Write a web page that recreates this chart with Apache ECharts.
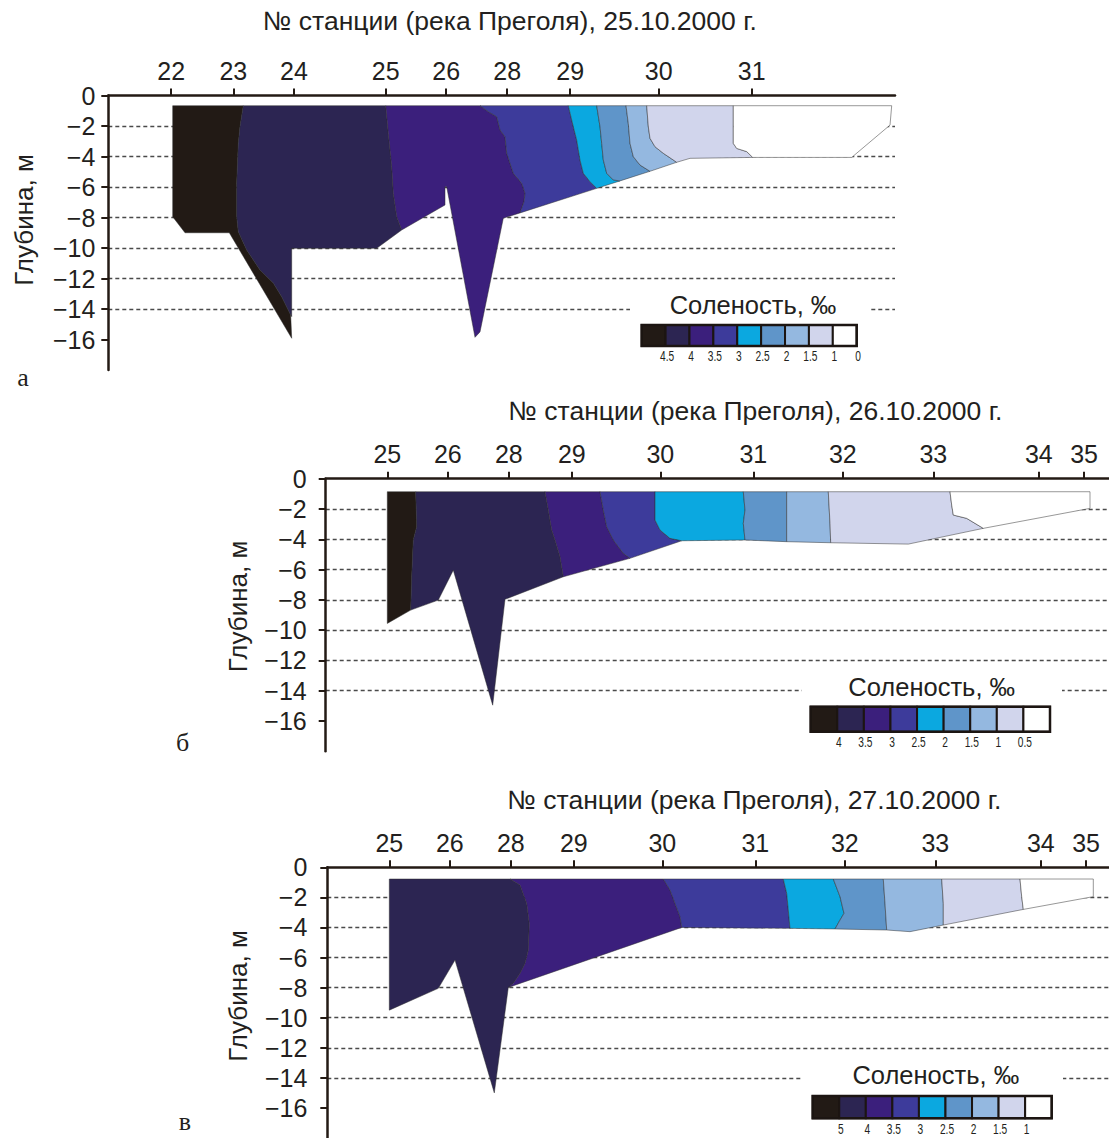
<!DOCTYPE html>
<html><head><meta charset="utf-8">
<script src="https://cdn.jsdelivr.net/npm/echarts@6/dist/echarts.min.js"></script>
<style>html,body{margin:0;padding:0;background:#fff}#main{width:1109px;height:1138px}</style>
</head><body><div id="main"></div>
<script>
// ---- stations along the section (distance units, station 25 = 0) ----
const STATION_NAMES = ['22','23','24','25','26','28','29','30','31','32','33','34','35'];
const STATION_POS   = [-214.5,-152.4,-91.8,0,60.5,121.5,184.5,273,366,455.5,546,651.5,696.8];
const STATIONS_A = ['22','23','24','25','26','28','29','30','31'];
const STATIONS_B = ['25','26','28','29','30','31','32','33','34','35'];
const STATIONS_C = ['25','26','28','29','30','31','32','33','34','35'];
const DEPTH_TICKS = [0,-2,-4,-6,-8,-10,-12,-14,-16];

// ---- salinity classes (legend colours, high -> low) ----
const ZONE_COLORS = ['#221a15','#2c2552','#3b1f7c','#3d3b9b','#0ba8e0','#5f95c9','#94b8e0','#d1d5ec','#ffffff'];
const LEGEND_A = ['4.5','4','3.5','3','2.5','2','1.5','1','0'];
const LEGEND_B = ['4','3.5','3','2.5','2','1.5','1','0.5'];
const LEGEND_C = ['5','4','3.5','3','2.5','2','1.5','1'];

const TITLES = ['№ станции (река Преголя), 25.10.2000 г.',
                '№ станции (река Преголя), 26.10.2000 г.',
                '№ станции (река Преголя), 27.10.2000 г.'];

// ---- salinity zones: [distance, depth] outlines, one per legend class ----
const ZONES_A = [
 [[-213,-0.67],[-142.4,-0.67],[-145.7,-2.04],[-147.4,-3.14],[-149,-5.76],[-149,-7.95],[-147.4,-8.93],[-139,-10.13],[-125.7,-11.44],[-112.4,-12.3],[-104,-13.2],[-95,-14.4],[-94,-15.92],[-156.4,-9.0],[-200.7,-9.0],[-213,-7.95]],
 [[-142.4,-0.67],[0,-0.67],[2.6,-2.48],[6,-4.67],[7.6,-6.41],[11,-7.95],[16,-8.82],[-9,-10.02],[-94,-10.02],[-94,-14.5],[-95,-14.4],[-104,-13.2],[-112.4,-12.3],[-125.7,-11.44],[-139,-10.13],[-147.4,-8.93],[-149,-7.95],[-149,-5.76],[-147.4,-3.14],[-145.7,-2.04]],
 [[0,-0.67],[94.3,-0.67],[102.6,-1.06],[111,-1.39],[114.3,-2.26],[119.3,-2.7],[121,-3.79],[127.6,-5.1],[136,-5.76],[139.3,-6.41],[138.3,-6.96],[134.3,-7.7],[117.6,-8.05],[94.3,-15.5],[89.3,-15.86],[61,-5.98],[59.3,-5.98],[59.3,-7.18],[16,-8.82],[11,-7.95],[7.6,-6.41],[6,-4.67],[2.6,-2.48]],
 [[94.3,-0.67],[182.6,-0.67],[187.6,-2.04],[191,-2.92],[194.3,-4.23],[197.6,-5.1],[204.3,-5.65],[211,-6.09],[134.3,-7.7],[138.3,-6.96],[139.3,-6.41],[136,-5.76],[127.6,-5.1],[121,-3.79],[119.3,-2.7],[114.3,-2.26],[111,-1.39],[102.6,-1.06]],
 [[182.6,-0.67],[211,-0.67],[214.3,-2.04],[216,-3.14],[217.6,-4.23],[221,-5.1],[227.6,-5.54],[234.3,-5.6],[211,-6.09],[204.3,-5.65],[197.6,-5.1],[194.3,-4.23],[191,-2.92],[187.6,-2.04]],
 [[211,-0.67],[240.3,-0.67],[242.6,-1.84],[244.3,-3.14],[247.6,-4.01],[254.3,-4.56],[264.3,-4.97],[234.3,-5.6],[227.6,-5.54],[221,-5.1],[217.6,-4.23],[216,-3.14],[214.3,-2.04]],
 [[240.3,-0.67],[261,-0.67],[262.6,-2.04],[264.3,-2.81],[269.3,-3.36],[277.6,-3.79],[291,-4.38],[264.3,-4.97],[254.3,-4.56],[247.6,-4.01],[244.3,-3.14],[242.6,-1.84]],
 [[261,-0.67],[347.6,-0.67],[347.6,-3.14],[351,-3.47],[361,-3.68],[367,-4.06],[304.3,-4.12],[291,-4.38],[277.6,-3.79],[269.3,-3.36],[264.3,-2.81],[262.6,-2.04]],
 [[347.6,-0.67],[506,-0.67],[504.3,-1.94],[466,-4.06],[367,-4.06],[361,-3.68],[351,-3.47],[347.6,-3.14]]
];
const ZONES_B = [
 [[0,-0.86],[28.4,-0.86],[29.4,-3.17],[26,-4.05],[24.4,-6.48],[23.4,-8.68],[0,-9.56]],
 [[28.4,-0.86],[157.7,-0.86],[161,-2.07],[164.4,-3.39],[167.7,-4.05],[172.7,-5.15],[176,-6.48],[117.7,-7.97],[105.4,-14.96],[66,-6.04],[51,-8.02],[23.4,-8.68],[24.4,-6.48],[26,-4.05],[29.4,-3.17]],
 [[157.7,-0.86],[212.7,-0.86],[216,-2.07],[219.4,-3.17],[226,-4.05],[236,-4.93],[242.7,-5.26],[176,-6.48],[172.7,-5.15],[167.7,-4.05],[164.4,-3.39],[161,-2.07]],
 [[212.7,-0.86],[267.7,-0.86],[267.7,-2.73],[272.7,-3.39],[282.7,-3.94],[294.4,-4.1],[242.7,-5.26],[236,-4.93],[226,-4.05],[219.4,-3.17],[216,-2.07]],
 [[267.7,-0.86],[356,-0.86],[357.7,-2.07],[356,-2.95],[357.7,-4.05],[294.4,-4.1],[282.7,-3.94],[272.7,-3.39],[267.7,-2.73]],
 [[356,-0.86],[399.4,-0.86],[399.4,-4.16],[357.7,-4.05],[356,-2.95],[357.7,-2.07]],
 [[399.4,-0.86],[441,-0.86],[442.7,-2.95],[443.4,-4.23],[399.4,-4.16]],
 [[441,-0.86],[562.7,-0.86],[564.4,-1.74],[566,-2.4],[579.4,-2.62],[596,-3.28],[521,-4.32],[443.4,-4.23],[442.7,-2.95]],
 [[562.7,-0.86],[702.7,-0.86],[702.7,-1.96],[596,-3.28],[579.4,-2.62],[566,-2.4],[564.4,-1.74]]
];
const ZONES_C = [
 null,
 [[0,-0.78],[120.7,-0.78],[130.7,-1.18],[137.4,-2.4],[140,-3.73],[139,-5.5],[135.7,-6.39],[130.7,-7.06],[124,-7.72],[119,-7.99],[105,-15.0],[65.7,-6.17],[49,-8.05],[0,-9.5]],
 [[120.7,-0.78],[274,-0.78],[280.7,-1.51],[285.7,-2.4],[290.7,-3.28],[292.4,-4.0],[119,-7.99],[124,-7.72],[130.7,-7.06],[135.7,-6.39],[139,-5.5],[140,-3.73],[137.4,-2.4],[130.7,-1.18]],
 [[274,-0.78],[394,-0.78],[397.4,-1.73],[399,-2.84],[400.7,-4.06],[292.4,-4.0],[290.7,-3.28],[285.7,-2.4],[280.7,-1.51]],
 [[394,-0.78],[444,-0.78],[450.7,-1.95],[454.7,-3.06],[450.7,-3.51],[445.7,-4.1],[400.7,-4.06],[399,-2.84],[397.4,-1.73]],
 [[444,-0.78],[494,-0.78],[495.7,-2.4],[497.4,-4.17],[445.7,-4.1],[450.7,-3.51],[454.7,-3.06],[450.7,-1.95]],
 [[494,-0.78],[552.4,-0.78],[554,-2.4],[554,-3.84],[520.7,-4.28],[497.4,-4.17],[495.7,-2.4]],
 [[552.4,-0.78],[630.7,-0.78],[632.4,-1.95],[634,-2.8],[554,-3.84],[554,-2.4]],
 [[630.7,-0.78],[704,-0.78],[704,-1.95],[634,-2.8],[632.4,-1.95]]
];

// ---- layout ----
const FONT = "'Liberation Sans', Arial, Helvetica, sans-serif";
const NARROW = "'Liberation Sans Narrow', 'Arial Narrow', 'Liberation Sans', sans-serif";
const SERIF = "'Liberation Serif', 'Times New Roman', serif";
const TEXT = '#231f20';
const AXIS = '#231a14';

const PANELS = [
  {grid:{left:108.3, top:95.5, width:786.7, height:274.5}, xmin:-277.4, xmax:509.3, stations:STATIONS_A, zones:ZONES_A, labelMargin:13,
   title:{x:510, y:7}, yname:{x:24, y:220}, letter:{t:'а', x:23, y:377},
   legend:{bg:[630,283,241,82], tx:753, ty:305, bx:641.7, by:325, bw:215, bh:21, labels:LEGEND_A, ly:356}},
  {grid:{left:325.7, top:478.7, width:783.3, height:272.5}, xmin:-61.6, xmax:721.7, stations:STATIONS_B, zones:ZONES_B, labelMargin:19,
   title:{x:755.5, y:397}, yname:{x:237.5, y:606.5}, letter:{t:'б', x:182.5, y:742},
   legend:{bg:[802,666,260,84], tx:931.7, ty:687, bx:810.7, by:706.7, bw:239.3, bh:25, labels:LEGEND_B, ly:742}},
  {grid:{left:327.3, top:867.3, width:781.7, height:271.3}, xmin:-62, xmax:719.7, stations:STATIONS_C, zones:ZONES_C, labelMargin:20,
   title:{x:754.5, y:786}, yname:{x:237.5, y:996}, letter:{t:'в', x:185, y:1121},
   legend:{bg:[803,1055,260,83], tx:935.8, ty:1075, bx:812.7, by:1096, bw:239, bh:22.3, labels:LEGEND_C, ly:1129}}
];

function stationValue(n){ return STATION_POS[STATION_NAMES.indexOf(n)]; }
function stationName(v){ const i = STATION_POS.findIndex(p => Math.abs(p - v) < 0.01); return i >= 0 ? STATION_NAMES[i] : ''; }
function depthLabel(v){ return v < 0 ? '\u2212' + Math.abs(v) : String(v); }

const grids = [], xAxes = [], yAxes = [], series = [], titles = [], graphics = [];

PANELS.forEach((P, gi) => {
  grids.push(Object.assign({containLabel:false}, P.grid));
  const sv = P.stations.map(stationValue);
  xAxes.push({
    type:'value', gridIndex:gi, position:'top', min:P.xmin, max:P.xmax,
    axisLine:{show:true, onZero:false, lineStyle:{color:AXIS, width:2.5}},
    axisTick:{show:true, customValues:sv, length:7, lineStyle:{color:AXIS, width:2}},
    axisLabel:{show:true, customValues:sv, margin:12, fontSize:25, color:TEXT, fontFamily:FONT, formatter:stationName},
    splitLine:{show:false}
  });
  yAxes.push({
    type:'value', gridIndex:gi, min:-18, max:0, interval:2,
    axisLine:{show:true, onZero:false, lineStyle:{color:AXIS, width:2.5}},
    axisTick:{show:true, customValues:DEPTH_TICKS, length:7, lineStyle:{color:AXIS, width:2}},
    axisLabel:{show:true, customValues:DEPTH_TICKS, margin:P.labelMargin, fontSize:25, color:TEXT, fontFamily:FONT, formatter:depthLabel},
    splitLine:{show:true, showMinLine:false, showMaxLine:false, lineStyle:{type:[4,3], color:'#4a4a4a', width:1.3}}
  });
  const data = [];
  P.zones.forEach((poly, zi) => { if (poly) data.push([poly[0][0], poly[0][1], zi]); });
  series.push({
    type:'custom', xAxisIndex:gi, yAxisIndex:gi, silent:true, animation:false, z:3,
    data,
    renderItem: (params, api) => {
      const zi = api.value(2);
      const pts = P.zones[zi].map(p => api.coord(p));
      return {type:'polygon', shape:{points:pts},
        style:{fill:ZONE_COLORS[zi], stroke:'rgba(45,45,45,0.55)', lineWidth:0.9}};
    }
  });
  titles.push({text:TITLES[gi], left:P.title.x, top:P.title.y, textAlign:'center', padding:0,
    textStyle:{fontSize:26.5, fontWeight:'normal', color:TEXT, fontFamily:FONT}});
  graphics.push({type:'text', x:P.yname.x, y:P.yname.y, rotation:Math.PI/2,
    style:{text:'Глубина, м', fontSize:26, fontFamily:FONT, fill:TEXT, textAlign:'center', textVerticalAlign:'middle'}});
  graphics.push({type:'text', x:P.letter.x, y:P.letter.y,
    style:{text:P.letter.t, fontSize:26, fontFamily:SERIF, fill:TEXT, textAlign:'center', textVerticalAlign:'middle'}});
  // legend
  const L = P.legend;
  graphics.push({type:'rect', z:50, shape:{x:L.bg[0], y:L.bg[1], width:L.bg[2], height:L.bg[3]}, style:{fill:'#fff'}});
  graphics.push({type:'text', z:51, x:L.tx, y:L.ty,
    style:{text:'Соленость, ‰', fontSize:25.5, fontFamily:FONT, fill:TEXT, textAlign:'center', textVerticalAlign:'middle'}});
  const n = ZONE_COLORS.length, cw = L.bw / n;
  ZONE_COLORS.forEach((c, i) => {
    graphics.push({type:'rect', z:52, shape:{x:L.bx + i*cw, y:L.by, width:cw, height:L.bh},
      style:{fill:c, stroke:'#1c1512', lineWidth:2}});
  });
  graphics.push({type:'rect', z:53, shape:{x:L.bx, y:L.by, width:L.bw, height:L.bh}, style:{fill:'none', stroke:'#1c1512', lineWidth:2.5}});
  L.labels.forEach((t, i) => {
    graphics.push({type:'text', z:53, x:L.bx + (i+1)*cw + 1.5, y:L.ly, scaleX:0.68,
      style:{text:t, fontSize:15, fontFamily:NARROW, fill:TEXT, textAlign:'center', textVerticalAlign:'middle'}});
  });
});

const chart = echarts.init(document.getElementById('main'), null, {renderer:'svg', width:1109, height:1138});
chart.setOption({
  backgroundColor:'#ffffff',
  animation:false,
  title:titles,
  grid:grids, xAxis:xAxes, yAxis:yAxes, series,
  graphic:{elements:graphics}
});
</script></body></html>
